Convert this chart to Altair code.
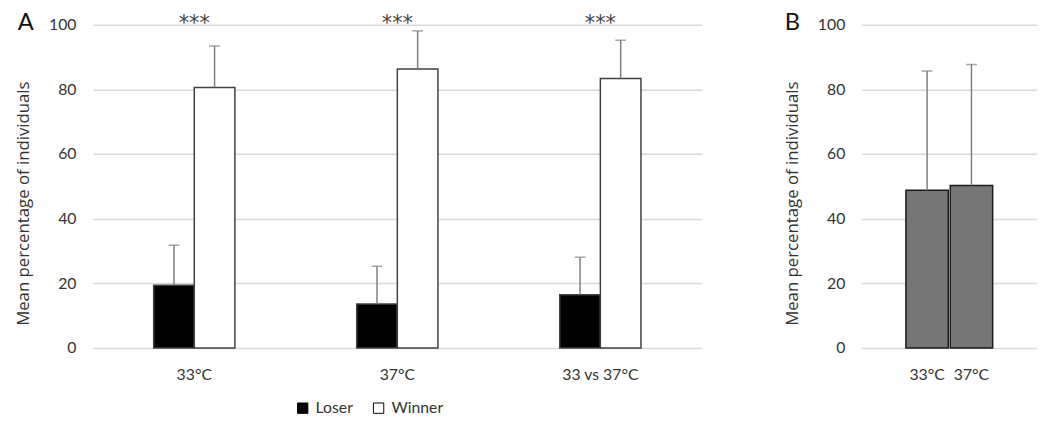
import altair as alt
import pandas as pd

FONT = "Lato"
TITLE_FONT = "Open Sans"
TEXT = "#333333"

# Panel A data
categories = ["33°C", "37°C", "33 vs 37°C"]
groups = ["Loser", "Winner"]
loser_mean = [19.4, 13.6, 16.5]
loser_sd = [12.4, 11.7, 11.6]
winner_mean = [80.6, 86.3, 83.4]
winner_sd = [12.8, 11.8, 11.8]
sig_labels = ["***", "***", "***"]

# Panel B data
temps = ["33°C", "37°C"]
b_mean = [48.8, 50.3]
b_sd = [36.9, 37.4]

panel_letters = ["A", "B"]
y_ticks = [0, 20, 40, 60, 80, 100]

rows = []
for i, c in enumerate(categories):
    rows.append({"cond": c, "group": "Loser", "mean": loser_mean[i],
                 "upper": loser_mean[i] + loser_sd[i]})
    rows.append({"cond": c, "group": "Winner", "mean": winner_mean[i],
                 "upper": winner_mean[i] + winner_sd[i]})
dfA = pd.DataFrame(rows)
dfSig = pd.DataFrame({"cond": categories, "label": sig_labels})
dfB = pd.DataFrame({"temp": temps, "mean": b_mean,
                    "upper": [m + s for m, s in zip(b_mean, b_sd)]})


def y_axis():
    return alt.Axis(values=y_ticks, title="Mean percentage of individuals",
                    domain=False, ticks=False, labelPadding=17, titlePadding=16,
                    titleY=181, gridColor="#d9d9d9", gridWidth=1.5)

yscale = alt.Scale(domain=[0, 100])

# ---------- Panel A ----------
xA = alt.X("cond:N", sort=categories,
           scale=alt.Scale(paddingInner=0.6, paddingOuter=0.3),
           axis=alt.Axis(title=None, labelAngle=0, ticks=False, domain=False,
                         labelPadding=19, grid=False))
offA = alt.XOffset("group:N", sort=groups,
                   scale=alt.Scale(paddingInner=0, paddingOuter=0))

baseA = alt.Chart(dfA)
barsA = baseA.mark_bar(stroke="#404040", strokeWidth=1.5).encode(
    x=xA, xOffset=offA,
    y=alt.Y("mean:Q", scale=yscale, axis=y_axis()),
    color=alt.Color("group:N", sort=groups,
                    scale=alt.Scale(domain=groups, range=["black", "white"]),
                    legend=alt.Legend(title=None, orient="none", direction="horizontal",
                                      legendX=205, legendY=381,
                                      symbolType="square", symbolSize=110,
                                      symbolStrokeColor="black", symbolStrokeWidth=1,
                                      labelFontSize=16, labelFont=FONT, labelColor=TEXT,
                                      labelOffset=5, columnPadding=18, padding=0)),
)
errA = baseA.mark_rule(color="#7f7f7f", strokeWidth=1.5).encode(
    x=xA, xOffset=offA,
    y=alt.Y("mean:Q", scale=yscale, axis=y_axis()), y2="upper:Q")
capA = baseA.mark_tick(color="#7f7f7f", thickness=1.5, size=11).encode(
    x=xA, xOffset=offA, y=alt.Y("upper:Q", scale=yscale, axis=y_axis()))
sigA = alt.Chart(dfSig).mark_text(font="DejaVu Sans", fontSize=21, color="#444444",
                                  baseline="alphabetic").encode(
    x=xA, y=alt.value(5), text="label:N")
letterA = alt.Chart(pd.DataFrame({"t": [panel_letters[0]]})).mark_text(
    font=FONT, fontSize=24, color="#111111", align="left",
    baseline="alphabetic").encode(x=alt.value(-76), y=alt.value(5), text="t:N")

panelA = alt.layer(barsA, errA, capA, sigA, letterA).properties(width=618, height=328)

# ---------- Panel B ----------
xB = alt.X("temp:N", sort=temps,
           scale=alt.Scale(paddingInner=0.044, paddingOuter=1),
           axis=alt.Axis(title=None, labelAngle=0, ticks=False, domain=False,
                         labelPadding=19, grid=False))
baseB = alt.Chart(dfB)
barsB = baseB.mark_bar(color="#767676", stroke="#1a1a1a", strokeWidth=1.5).encode(
    x=xB, y=alt.Y("mean:Q", scale=yscale, axis=y_axis()))
errB = baseB.mark_rule(color="#7f7f7f", strokeWidth=1.5).encode(
    x=xB, y=alt.Y("mean:Q", scale=yscale, axis=y_axis()), y2="upper:Q")
capB = baseB.mark_tick(color="#7f7f7f", thickness=1.5, size=11).encode(
    x=xB, y=alt.Y("upper:Q", scale=yscale, axis=y_axis()))
letterB = alt.Chart(pd.DataFrame({"t": [panel_letters[1]]})).mark_text(
    font=FONT, fontSize=24, color="#111111", align="left",
    baseline="alphabetic").encode(x=alt.value(-78), y=alt.value(5), text="t:N")

panelB = alt.layer(barsB, errB, capB, letterB).properties(width=178, height=328)

chart = alt.hconcat(panelA, panelB, spacing=83).properties(
    padding={"left": 7, "top": 0, "right": 0, "bottom": 0}
).configure_view(stroke=None).configure_axis(
    labelFont=FONT, titleFont=TITLE_FONT, labelFontSize=16, titleFontSize=17,
    labelColor=TEXT, titleColor=TEXT, titleFontWeight="normal"
)

chart.save("out.html", embed_options={"renderer": "svg", "actions": False})
